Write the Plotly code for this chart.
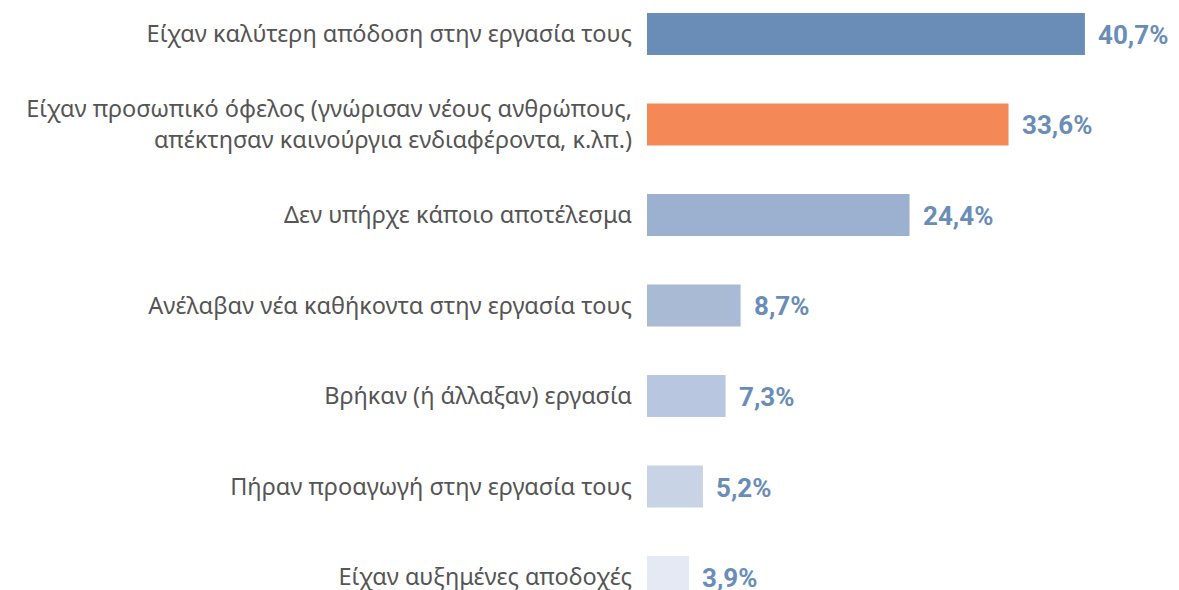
import plotly.graph_objects as go

categories = [
    "Είχαν καλύτερη απόδοση στην εργασία τους",
    "Είχαν προσωπικό όφελος (γνώρισαν νέους ανθρώπους,<br>απέκτησαν καινούργια ενδιαφέροντα, κ.λπ.)",
    "Δεν υπήρχε κάποιο αποτέλεσμα",
    "Ανέλαβαν νέα καθήκοντα στην εργασία τους",
    "Βρήκαν (ή άλλαξαν) εργασία",
    "Πήραν προαγωγή στην εργασία τους",
    "Είχαν αυξημένες αποδοχές",
]
values = [40.7, 33.6, 24.4, 8.7, 7.3, 5.2, 3.9]
labels = ["40,7%", "33,6%", "24,4%", "8,7%", "7,3%", "5,2%", "3,9%"]
colors = ["#6a8db8", "#f58857", "#9bb1cf", "#a9bad5", "#b8c7df", "#c8d3e6", "#e4e9f3"]

fig = go.Figure(go.Bar(
    x=values,
    y=categories,
    orientation="h",
    marker=dict(color=colors, line=dict(width=0)),
    width=0.464,
    cliponaxis=False,
    hoverinfo="skip",
))

for cat, val, lab in zip(categories, values, labels):
    fig.add_annotation(
        x=val, y=cat, text=lab, showarrow=False,
        xanchor="left", yanchor="middle", xshift=11, yshift=-1,
        font=dict(family="Roboto", size=26, color="#6a8db8", weight="bold"),
    )

fig.update_layout(
    width=1179,
    height=590,
    margin=dict(l=639, r=16, t=0, b=0),
    paper_bgcolor="white",
    plot_bgcolor="white",
    showlegend=False,
    xaxis=dict(range=[0, 48.7], visible=False, showgrid=False, zeroline=False),
    yaxis=dict(
        type="category",
        range=[6.232, -0.287],
        showgrid=False,
        zeroline=False,
        showline=False,
        ticks="",
        ticklabelstandoff=14,
        tickfont=dict(family="Noto Sans", size=23.5, color="#555555"),
    ),
)

fig.write_html("out.html")
